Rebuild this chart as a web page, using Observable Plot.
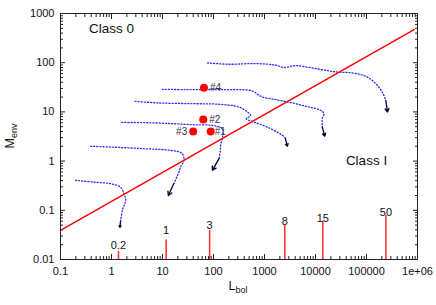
<!DOCTYPE html>
<html><head><meta charset="utf-8">
<script src="https://cdn.jsdelivr.net/npm/d3@7"></script>
<script src="https://cdn.jsdelivr.net/npm/@observablehq/plot@0.6"></script>
<style>body{margin:0;background:#fff} svg{display:block}</style>
</head><body><div id="chart"></div>
<script>
// Axis ticks and labels
const xMajor = [0.1, 1, 10, 100, 1000, 10000, 100000, 1000000];
const xTickLabels = ["0.1", "1", "10", "100", "1000", "10000", "100000", "1e+06"];
const yMajor = [0.01, 0.1, 1, 10, 100, 1000];
const yTickLabels = ["0.01", "0.1", "1", "10", "100", "1000"];

// Class 0 / Class I boundary line (Lbol, Menv)
const boundaryL = [0.1, 857000];
const boundaryM = [0.039, 470];

// Evolutionary tracks (Lbol, Menv), one per final mass
const track02 = [[0.197,0.405],[0.45,0.374],[0.96,0.347],[1.5,0.296],[1.75,0.217],[1.89,0.159],[1.63,0.099],[1.5,0.058]];
const track1  = [[0.39,2.0],[0.96,1.93],[4.3,1.79],[14.4,1.65],[24.4,1.42],[26.3,1.03],[22.6,0.755],[21,0.6],[16.7,0.35]];
const track3  = [[1.6,6.1],[4.3,6.05],[14.4,5.8],[38,5.5],[95,5.3],[149,4.57],[151,3.08],[138,2.09],[136,1.6],[128,1.12]];
const track8  = [[2.9,16.4],[8.5,15.2],[38,14.7],[128,14.3],[315,12.6],[460,10],[535,8.5],[440,7.3],[620,6.2],[1140,4.9],[2240,3.34],[2560,2.9]];
const track15 = [[9.9,28.8],[28,28.4],[170,28.4],[580,26.6],[780,21.7],[910,20.1],[1650,17.8],[3500,15.2],[7400,12.6],[12600,10.8],[14700,9.2],[13600,7.3],[13600,4.9]];
const track50 = [[76,99],[200,93],[670,96],[1650,89],[2400,80],[4100,87],[10000,76],[25000,65],[53000,62],[97000,53],[150000,38],[205000,25],[239000,17]];

// Arrow heads at track ends: [L1, M1, L2, M2]
const trackArrows = [[1.5,0.058,1.46,0.045],[16.7,0.35,13,0.2],[128,1.12,95,0.65],[2560,2.9,2810,2.0],[13600,4.9,15200,3.2],[239000,17,258000,9.95]];

// Sources
const srcNames = ["#1", "#2", "#3", "#4"];
const srcL = [88, 63, 40, 65];
const srcM = [4.0, 7.0, 4.0, 31];

// Final-mass impulses
const massLabels = ["0.2", "1", "3", "8", "15", "50"];
const massL = [1.37, 11.8, 84, 2500, 13900, 240000];
const massH = [0.0146, 0.025, 0.039, 0.049, 0.06, 0.078];
const massLabelM = [0.0195, 0.039, 0.05, 0.058, 0.069, 0.09];

// Region labels
const regionText = ["Class 0", "Class I"];
const regionL = [1, 100000];
const regionM = [500, 1];

const xMinor = [];
for (let k = -1; k <= 5; k++) for (let m = 2; m <= 9; m++) xMinor.push(m * Math.pow(10, k));
const yMinor = [];
for (let k = -2; k <= 2; k++) for (let m = 2; m <= 9; m++) yMinor.push(m * Math.pow(10, k));

const tracks = [track02, track1, track3, track8, track15, track50]
  .flatMap((t, j) => t.map(([L, M]) => ({L, M, id: j})));
const boundary = boundaryL.map((L, i) => ({L, M: boundaryM[i]}));
const arrows = trackArrows.map(([x1, y1, x2, y2]) => ({x1, y1, x2, y2}));
const sources = srcNames.map((n, i) => ({n, L: srcL[i], M: srcM[i]}));
const masses = massLabels.map((t, i) => ({t, L: massL[i], h: massH[i], lm: massLabelM[i]}));
const regions = regionText.map((t, i) => ({t, L: regionL[i], M: regionM[i]}));

const tickColor = "#222";
const blank = () => "";

const chart = Plot.plot({
  width: 436, height: 305,
  marginLeft: 60, marginRight: 19, marginTop: 13, marginBottom: 46,
  style: {fontFamily: "'Liberation Sans', Arial, sans-serif", fontSize: "11px", background: "#fff", color: "#111"},
  x: {type: "log", domain: [0.1, 1e6]},
  y: {type: "log", domain: [0.01, 1000]},
  marks: [
    // ticks (inward, mirrored)
    Plot.axisX({anchor: "bottom", ticks: xMajor, tickSize: -5, tickFormat: blank, label: null, stroke: tickColor}),
    Plot.axisX({anchor: "top", ticks: xMajor, tickSize: -5, tickFormat: blank, label: null, stroke: tickColor}),
    Plot.axisX({anchor: "bottom", ticks: xMinor, tickSize: -3, tickFormat: blank, label: null, stroke: tickColor}),
    Plot.axisX({anchor: "top", ticks: xMinor, tickSize: -3, tickFormat: blank, label: null, stroke: tickColor}),
    Plot.axisY({anchor: "left", ticks: yMajor, tickSize: -5, tickFormat: blank, label: null, stroke: tickColor}),
    Plot.axisY({anchor: "right", ticks: yMajor, tickSize: -5, tickFormat: blank, label: null, stroke: tickColor}),
    Plot.axisY({anchor: "left", ticks: yMinor, tickSize: -3, tickFormat: blank, label: null, stroke: tickColor}),
    Plot.axisY({anchor: "right", ticks: yMinor, tickSize: -3, tickFormat: blank, label: null, stroke: tickColor}),
    // tick labels
    Plot.axisX({anchor: "bottom", ticks: xMajor, tickSize: 0, tickPadding: 8, label: null,
      tickFormat: d => xTickLabels[xMajor.indexOf(d)], fill: "#111"}),
    Plot.axisY({anchor: "left", ticks: yMajor, tickSize: 0, tickPadding: 6, label: null,
      tickFormat: d => yTickLabels[yMajor.indexOf(d)], fill: "#111"}),
    // mass impulses
    Plot.ruleX(masses, {x: "L", y1: 0.01, y2: "h", stroke: "#ff2a2a", strokeWidth: 1.5}),
    Plot.text(masses, {x: "L", y: "lm", text: "t", fill: "#111", fontSize: 11}),
    // tracks
    Plot.line(tracks, {x: "L", y: "M", z: "id", stroke: "#2a2aff", strokeWidth: 1.3,
      strokeDasharray: "1.1,2", curve: "catmull-rom"}),
    Plot.arrow(arrows, {x1: "x1", y1: "y1", x2: "x2", y2: "y2", stroke: "#000033",
      strokeWidth: 1.3, headLength: 5}),
    // boundary
    Plot.line(boundary, {x: "L", y: "M", stroke: "#ff0000", strokeWidth: 1.5}),
    // sources
    Plot.text(sources.filter(d => d.n !== "#3" && d.n !== "#1"), {x: "L", y: "M", text: "n", textAnchor: "start", dx: 6, fill: "#333", fontSize: 10}),
    Plot.text(sources.filter(d => d.n === "#1"), {x: "L", y: "M", text: "n", textAnchor: "start", dx: 4, fill: "#333", fontSize: 10}),
    Plot.text(sources.filter(d => d.n === "#3"), {x: "L", y: "M", text: "n", textAnchor: "end", dx: -6, fill: "#333", fontSize: 10}),
    Plot.dot(sources, {x: "L", y: "M", r: 4, fill: "#ff0000"}),
    // region labels
    Plot.text(regions, {x: "L", y: "M", text: "t", fontSize: 13.5, fill: "#111"}),
    Plot.frame({stroke: "#222"})
  ]
});
document.getElementById("chart").appendChild(chart);

// axis titles with subscripts
const svg = d3.select(chart);
const yl = svg.append("text")
  .attr("transform", "translate(14,136) rotate(-90)")
  .attr("text-anchor", "middle")
  .attr("fill", "#111")
  .attr("font-family", "'Liberation Sans', Arial, sans-serif")
  .attr("font-size", 12.5);
yl.append("tspan").text("M");
yl.append("tspan").attr("font-size", 9).attr("dy", 3).text("env");
const xl = svg.append("text")
  .attr("transform", "translate(238,290)")
  .attr("text-anchor", "middle")
  .attr("fill", "#111")
  .attr("font-family", "'Liberation Sans', Arial, sans-serif")
  .attr("font-size", 12.5);
xl.append("tspan").text("L");
xl.append("tspan").attr("font-size", 9).attr("dy", 3).text("bol");
</script>
</body></html>
